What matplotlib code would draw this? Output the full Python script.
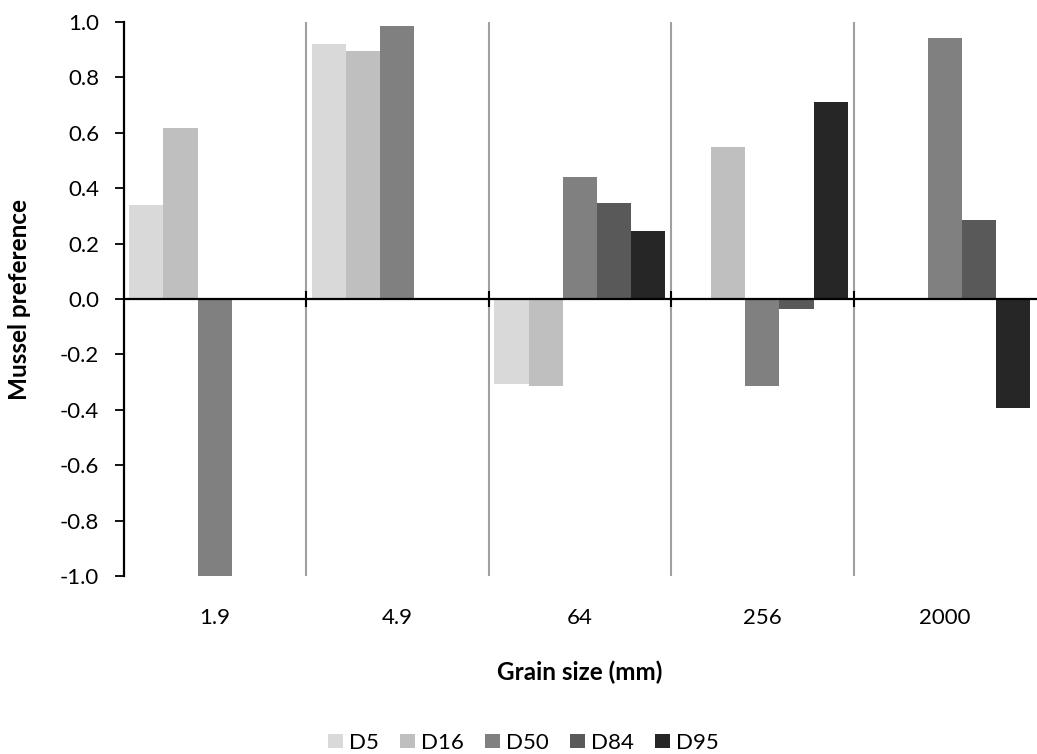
import matplotlib
matplotlib.use("Agg")
import matplotlib.pyplot as plt
import numpy as np

categories = ["1.9", "4.9", "64", "256", "2000"]
series_names = ["D5", "D16", "D50", "D84", "D95"]
d5 = [0.338, 0.922, -0.306, 0.0, 0.0]
d16 = [0.617, 0.895, -0.314, 0.548, 0.0]
d50 = [-1.0, 0.987, 0.442, -0.315, 0.941]
d84 = [0.0, 0.0, 0.348, -0.037, 0.284]
d95 = [0.0, 0.0, 0.244, 0.710, -0.395]
colors = ["#d9d9d9", "#bfbfbf", "#808080", "#595959", "#262626"]
yticks = [-1.0, -0.8, -0.6, -0.4, -0.2, 0.0, 0.2, 0.4, 0.6, 0.8, 1.0]

plt.rcParams['font.family'] = ['Lato', 'DejaVu Sans']

fig = plt.figure(figsize=(10.37, 7.54), dpi=100)
ax = fig.add_axes([0.1191, 0.2361, 0.880, 0.7347])

x = np.arange(len(categories))
w = 1 / 5.34
all_series = [d5, d16, d50, d84, d95]
for j, (name, vals) in enumerate(zip(series_names, all_series)):
    ax.bar(x + (j - 2) * w, vals, width=w, color=colors[j], label=name,
           edgecolor='none', zorder=2)

ax.set_xlim(-0.5, len(categories) - 0.5)
ax.set_ylim(-1.0, 1.0)

for b in np.arange(0.5, len(categories) - 0.5, 1.0):
    ax.axvline(b, color='#a0a0a0', lw=1.5, zorder=1)

ax.spines['top'].set_visible(False)
ax.spines['right'].set_visible(False)
ax.spines['bottom'].set_position(('data', 0))
ax.spines['bottom'].set_linewidth(1.6)
ax.spines['bottom'].set_zorder(3)
ax.spines['left'].set_linewidth(1.6)

ax.set_yticks(yticks)
ax.set_yticklabels([f"{v:.1f}" for v in yticks], fontsize=16)
ax.tick_params(axis='y', direction='out', length=6.5, width=1.3, pad=11)

ax.set_xticks(np.arange(0.5, len(categories) - 0.5, 1.0))
ax.set_xticklabels([])
ax.tick_params(axis='x', direction='inout', length=12, width=1.5)

for i, c in enumerate(categories):
    ax.text(i, -0.0758, c, transform=ax.get_xaxis_transform(),
            ha='center', va='center', fontsize=16)

fig.text(20 / 1037, 1 - 299 / 754, "Mussel preference", rotation=90,
         ha='center', va='center', fontsize=17.5, fontweight='bold')
fig.text(580 / 1037, 1 - 672 / 754, "Grain size (mm)", ha='center', va='center',
         fontsize=17.5, fontweight='bold')

fig.legend(loc='center', bbox_to_anchor=(523.5 / 1037, 1 - 743 / 754), ncol=5,
           frameon=False, fontsize=16, handlelength=0.68, handleheight=0.63,
           handletextpad=0.27, columnspacing=0.95)

fig.savefig("out.png", dpi=100)
